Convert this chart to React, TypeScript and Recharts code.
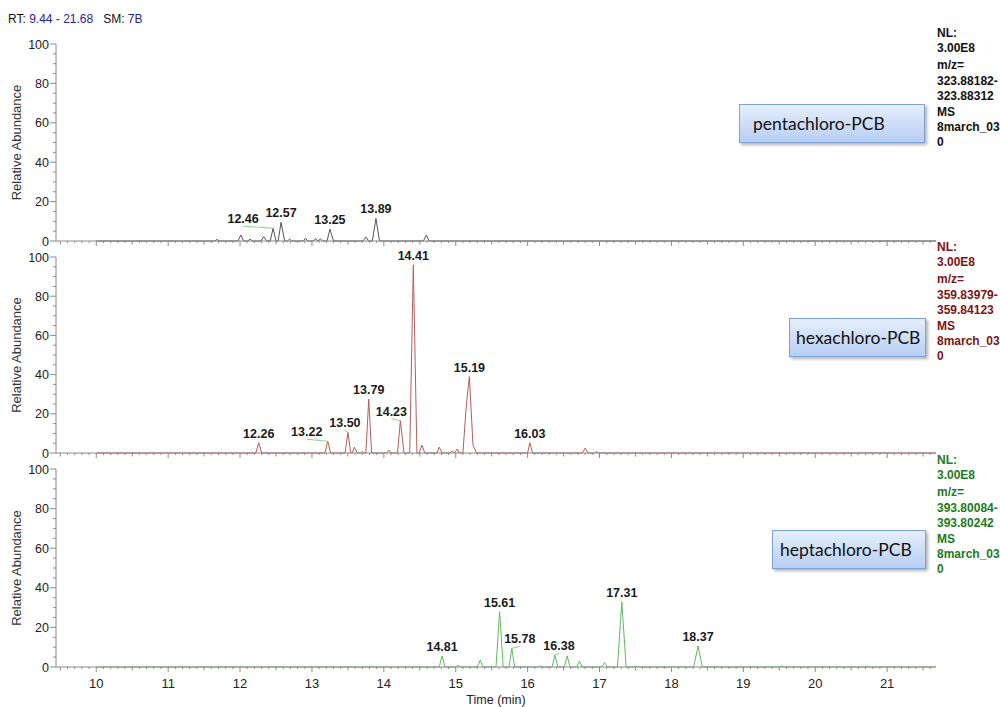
import { ComposedChart, Line, ReferenceDot, XAxis, YAxis } from "recharts";

// RT window and axis ticks
const RT_RANGE: [number, number] = [9.44, 21.68];
const TIME_LABELS = [10, 11, 12, 13, 14, 15, 16, 17, 18, 19, 20, 21];
const ABUNDANCE_LABELS = [0, 20, 40, 60, 80, 100];

// chromatogram traces, [time (min), relative abundance]
const PENTA_TRACE: [number, number][] = [
	[10, 0],
	[11.65, 0], [11.68, 0.8], [11.71, 0],
	[11.97, 0], [12.01, 3], [12.05, 0],
	[12.11, 0], [12.14, 1], [12.17, 0],
	[12.29, 0], [12.33, 2.2], [12.37, 0],
	[12.42, 0], [12.46, 6.5], [12.5, 0],
	[12.53, 0], [12.57, 9.5], [12.62, 0],
	[12.66, 0], [12.69, 1], [12.72, 0],
	[12.88, 0], [12.91, 1.5], [12.94, 0],
	[13.02, 0], [13.05, 1.2], [13.08, 0], [13.12, 1], [13.15, 0],
	[13.21, 0], [13.25, 6], [13.3, 0],
	[13.71, 0], [13.75, 2], [13.79, 0],
	[13.84, 0], [13.89, 11.5], [13.94, 0],
	[14.55, 0], [14.59, 3], [14.63, 0],
	[21.68, 0],
];

const HEXA_TRACE: [number, number][] = [
	[10, 0],
	[12.22, 0], [12.26, 5.3], [12.3, 0],
	[13.18, 0], [13.22, 6], [13.26, 0],
	[13.46, 0], [13.5, 10.5], [13.54, 0],
	[13.56, 0], [13.59, 3], [13.63, 0],
	[13.68, 0], [13.7, 0.8], [13.72, 0],
	[13.75, 0], [13.79, 27.5], [13.83, 0],
	[14.04, 0], [14.07, 1.5], [14.1, 0],
	[14.19, 0], [14.23, 16.5], [14.28, 0],
	[14.36, 0], [14.41, 96], [14.46, 0],
	[14.49, 0], [14.53, 4], [14.57, 0],
	[14.74, 0], [14.77, 3], [14.81, 0],
	[14.92, 0], [14.95, 1.2], [14.98, 0], [15.02, 2], [15.05, 0],
	[15.1, 0], [15.14, 21], [15.16, 29], [15.19, 39], [15.24, 4], [15.29, 0],
	[16.0, 0], [16.03, 5.3], [16.07, 0],
	[16.76, 0], [16.8, 2.5], [16.84, 0],
	[16.93, 0], [16.96, 0.8], [16.99, 0],
	[21.68, 0],
];

const HEPTA_TRACE: [number, number][] = [
	[10, 0],
	[14.77, 0], [14.81, 5.6], [14.85, 0],
	[15.0, 0], [15.03, 1], [15.06, 0],
	[15.3, 0], [15.34, 3.5], [15.38, 0],
	[15.47, 0], [15.49, 0.6], [15.51, 0],
	[15.56, 0], [15.61, 28], [15.66, 0],
	[15.74, 0], [15.78, 9.4], [15.82, 0],
	[16.14, 0], [16.17, 0.6], [16.2, 0],
	[16.34, 0], [16.38, 6], [16.42, 0],
	[16.51, 0], [16.55, 5.6], [16.59, 0],
	[16.68, 0], [16.72, 3], [16.76, 0],
	[17.03, 0], [17.07, 2.2], [17.11, 0],
	[17.25, 0], [17.31, 33], [17.37, 0],
	[17.47, 0], [17.5, 0.5], [17.53, 0],
	[18.31, 0], [18.37, 10.6], [18.43, 0],
	[19.5, 0], [19.53, 0.6], [19.56, 0],
	[21.68, 0],
];

// labelled peaks: [retention time, apex abundance]
const PENTA_PEAKS: [number, number][] = [[12.46, 6.5], [12.57, 9.5], [13.25, 6], [13.89, 11.5]];
const HEXA_PEAKS: [number, number][] = [
	[12.26, 5.3], [13.22, 6], [13.5, 10.5], [13.79, 27.5], [14.23, 16.5],
	[14.41, 96], [15.19, 39], [16.03, 5.3],
];
const HEPTA_PEAKS: [number, number][] = [
	[14.81, 5.6], [15.61, 28], [15.78, 9.4], [16.38, 6], [17.31, 33], [18.37, 10.6],
];

const PENTA_INFO = ["NL:", "3.00E8", "m/z=", "323.88182-", "323.88312", "MS", "8march_03", "0"];
const HEXA_INFO = ["NL:", "3.00E8", "m/z=", "359.83979-", "359.84123", "MS", "8march_03", "0"];
const HEPTA_INFO = ["NL:", "3.00E8", "m/z=", "393.80084-", "393.80242", "MS", "8march_03", "0"];

// label offsets in px where the label sits beside its peak
const LABEL_NUDGE: Record<string, [number, number]> = {
	"12.46": [-30, 0],
	"13.22": [-21, 0],
	"13.50": [-3, 0],
	"14.23": [-9, 0],
	"15.78": [8, 0],
	"16.38": [4, 0],
};

const FONT = '"Liberation Sans", Arial, sans-serif';
const AXIS = "#8a8a8a";
const PLOT_LEFT = 56;
const PLOT_RIGHT = 64;

const minorTicks: number[] = [];
for (let i = 95; i <= 216; i++) minorTicks.push(i / 10);
const yTicks: number[] = [];
for (let i = 0; i <= 100; i += 5) yTicks.push(i);

const isMajorTime = (v: number) => TIME_LABELS.some((t) => Math.abs(t - v) < 1e-6);

function TimeTick(props: any, showLabels: boolean) {
	const { x, y, payload } = props;
	const v = payload.value;
	const major = isMajorTime(v);
	const half = Math.abs(v * 2 - Math.round(v * 2)) < 1e-6;
	const len = major ? 5 : half ? 3.5 : 2;
	return (
		<g>
			<line x1={x} x2={x} y1={y} y2={y + len} stroke={AXIS} />
			{showLabels && major && (
				<text x={x} y={y + 21} textAnchor="middle" fontSize={13} fill="#222" fontFamily={FONT}>
					{v}
				</text>
			)}
		</g>
	);
}

function AbundanceTick(props: any) {
	const { x, y, payload } = props;
	const v = payload.value;
	const major = ABUNDANCE_LABELS.includes(v);
	return (
		<g>
			<line x1={x - (major ? 6 : 3)} x2={x} y1={y} y2={y} stroke={AXIS} />
			{major && (
				<text x={x - 7} y={y + 4.5} textAnchor="end" fontSize={12.5} fill="#222" fontFamily={FONT}>
					{v}
				</text>
			)}
		</g>
	);
}

function peakLabel(text: string) {
	const [dx, dy] = LABEL_NUDGE[text] ?? [0, 0];
	return (p: any) => (
		<g>
			{dx !== 0 && (
				<line x1={p.cx + dx} y1={p.cy - 2} x2={p.cx} y2={p.cy} stroke="#8fd08f" strokeWidth={1} />
			)}
			<text
				x={p.cx + dx}
				y={p.cy - 5 + dy}
				textAnchor="middle"
				fontSize={12.5}
				fontWeight="bold"
				fill="#1a1a1a"
				fontFamily={FONT}
			>
				{text}
			</text>
		</g>
	);
}

function Panel({
	top,
	height,
	marginTop,
	axisHeight,
	trace,
	peaks,
	color,
	bottom,
}: {
	top: number;
	height: number;
	marginTop: number;
	axisHeight: number;
	trace: [number, number][];
	peaks: [number, number][];
	color: string;
	bottom?: boolean;
}) {
	const data = trace.map(([t, v]) => ({ t, v }));
	return (
		<div style={{ position: "absolute", left: 0, top }}>
			<ComposedChart
				width={1000}
				height={height}
				data={data}
				margin={{ top: marginTop, right: PLOT_RIGHT, bottom: 0, left: 0 }}
			>
				<XAxis
					type="number"
					dataKey="t"
					domain={RT_RANGE}
					allowDataOverflow
					ticks={minorTicks}
					interval={0}
					height={axisHeight}
					stroke={AXIS}
					tickLine={false}
					tickSize={0}
					tickMargin={0}
					tick={(p: any) => TimeTick(p, !!bottom)}
					label={
						bottom
							? (p: any) => (
									<text
										x={p.viewBox.x + p.viewBox.width / 2}
										y={p.viewBox.y + 37}
										textAnchor="middle"
										fontSize={12.5}
										fill="#222"
										fontFamily={FONT}
									>
										Time (min)
									</text>
								)
							: undefined
					}
				/>
				<YAxis
					type="number"
					domain={[0, 100]}
					ticks={yTicks}
					interval={0}
					width={PLOT_LEFT}
					stroke={AXIS}
					tickLine={false}
					tickSize={0}
					tickMargin={0}
					tick={AbundanceTick}
					label={(p: any) => {
						const cy = p.viewBox.y + p.viewBox.height / 2;
						return (
							<text
								x={18}
								y={cy}
								transform={`rotate(-90, 18, ${cy})`}
								textAnchor="middle"
								dominantBaseline="middle"
								fontSize={13}
								fill="#333"
								fontFamily={FONT}
							>
								Relative Abundance
							</text>
						);
					}}
				/>
				<Line
					type="linear"
					dataKey="v"
					stroke={color}
					strokeWidth={1}
					dot={false}
					isAnimationActive={false}
				/>
				{peaks.map(([t, h]) => {
					const text = t.toFixed(2);
					return <ReferenceDot key={text} x={t} y={h} r={1} shape={peakLabel(text)} />;
				})}
			</ComposedChart>
		</div>
	);
}

function InfoText({ lines, top, color }: { lines: string[]; top: number; color: string }) {
	return (
		<div
			style={{
				position: "absolute",
				left: 937,
				top,
				color,
				fontFamily: FONT,
				fontSize: 12,
				fontWeight: "bold",
				lineHeight: "15.4px",
			}}
		>
			{lines.map((l, i) => (
				<div key={i} style={{ marginBottom: i === 1 ? 1.5 : 0 }}>
					{l}
				</div>
			))}
		</div>
	);
}

function NameBox({
	text,
	left,
	top,
	width,
	pad,
}: {
	text: string;
	left: number;
	top: number;
	width: number;
	pad: number;
}) {
	return (
		<div
			style={{
				position: "absolute",
				left,
				top,
				width,
				height: 39,
				boxSizing: "border-box",
				background: "linear-gradient(#e6effd, #b7cef4)",
				border: "1px solid #7ea2d8",
				boxShadow: "2px 2px 3px rgba(0,0,0,0.3)",
				fontFamily: "Lato, 'Open Sans', sans-serif",
				fontSize: 17.5,
				color: "#111",
				display: "flex",
				alignItems: "center",
				paddingLeft: pad,
				whiteSpace: "nowrap",
			}}
		>
			{text}
		</div>
	);
}

export default function App() {
	const blue = "#1f23a0";
	return (
		<div
			style={{
				position: "absolute",
				left: 0,
				top: 0,
				width: 1000,
				height: 707,
				background: "#fff",
				overflow: "hidden",
			}}
		>
			<div
				style={{ position: "absolute", left: 8, top: 12, fontFamily: FONT, fontSize: 12, color: "#111" }}
			>
				RT: <span style={{ color: blue }}>9.44 - 21.68</span>
				<span style={{ marginLeft: 10 }}>SM: </span>
				<span style={{ color: blue }}>7B</span>
			</div>
			<Panel top={0} height={250} marginTop={44} axisHeight={9} trace={PENTA_TRACE} peaks={PENTA_PEAKS} color="#555" />
			<Panel top={250} height={210} marginTop={7} axisHeight={7} trace={HEXA_TRACE} peaks={HEXA_PEAKS} color="#b95c5c" />
			<Panel
				top={460}
				height={247}
				marginTop={9}
				axisHeight={40}
				trace={HEPTA_TRACE}
				peaks={HEPTA_PEAKS}
				color="#62b962"
				bottom
			/>
			<InfoText lines={PENTA_INFO} top={26} color="#111" />
			<InfoText lines={HEXA_INFO} top={240} color="#7d1313" />
			<InfoText lines={HEPTA_INFO} top={453} color="#217a21" />
			<NameBox text="pentachloro-PCB" left={739} top={104} width={186} pad={13} />
			<NameBox text="hexachloro-PCB" left={789} top={318} width={137} pad={6} />
			<NameBox text="heptachloro-PCB" left={772} top={530} width={154} pad={7} />
		</div>
	);
}
